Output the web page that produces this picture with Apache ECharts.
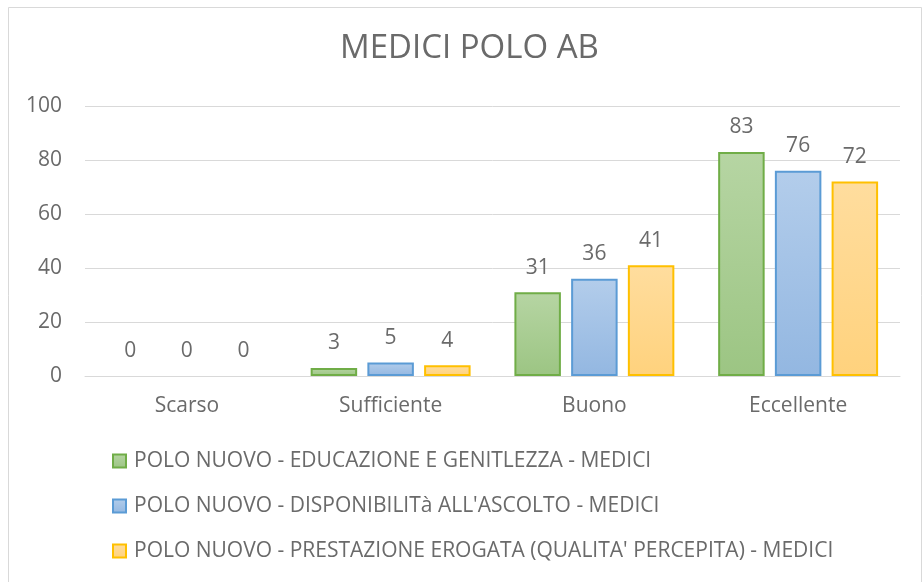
<!DOCTYPE html>
<html><head><meta charset="utf-8">
<script src="https://cdn.jsdelivr.net/npm/echarts@6/dist/echarts.min.js"></script>
<style>html,body{margin:0;padding:0;background:#fff}#c{width:923px;height:582px}</style>
</head><body><div id="c"></div>
<script>
const categories = ['Scarso', 'Sufficiente', 'Buono', 'Eccellente'];
const seriesNames = [
  "POLO NUOVO - EDUCAZIONE E GENITLEZZA - MEDICI",
  "POLO NUOVO - DISPONIBILITà ALL'ASCOLTO - MEDICI",
  "POLO NUOVO - PRESTAZIONE EROGATA (QUALITA' PERCEPITA) - MEDICI"
];
const educazione = [0, 3, 31, 83];
const disponibilita = [0, 5, 36, 76];
const prestazione = [0, 4, 41, 72];
const yTicks = [0, 20, 40, 60, 80, 100];

const FONT = 'Open Sans';
const TXT = '#6a6a6a';
const styles = [
  {top: '#b6d5a3', bottom: '#9cc583', border: '#70ad47'},
  {top: '#b3cdeb', bottom: '#93b7e1', border: '#5b9bd5'},
  {top: '#ffdd9e', bottom: '#ffd27d', border: '#ffc000'}
];
function grad(s) {
  return new echarts.graphic.LinearGradient(0, 0, 0, 1, [
    {offset: 0, color: s.top}, {offset: 1, color: s.bottom}
  ]);
}
function mkSeries(name, vals, s) {
  return {
    name: name,
    type: 'bar',
    barGap: '22%',
    barCategoryGap: '21.5%',
    data: vals.map(v => v === 0 ? {value: v, itemStyle: {borderWidth: 0, color: 'rgba(0,0,0,0)'}} : v),
    itemStyle: {color: grad(s), borderColor: s.border, borderWidth: 2},
    label: {show: true, position: 'top', distance: 14, color: TXT, fontFamily: FONT, fontSize: 21,
            formatter: p => String(p.value)},
    emphasis: {disabled: true}
  };
}
const chart = echarts.init(document.getElementById('c'), null, {renderer: 'canvas'});
chart.setOption({
  animation: false,
  backgroundColor: '#fff',
  title: {
    text: 'MEDICI POLO AB', left: 340, top: 32, padding: 0,
    textStyle: {fontFamily: FONT, fontSize: 33, fontWeight: 'normal', color: TXT}
  },
  graphic: [{
    type: 'rect', shape: {x: 8.5, y: 7.5, width: 913, height: 600},
    style: {fill: 'none', stroke: '#d9d9d9', lineWidth: 1}, silent: true, z: -1
  }],
  legend: {
    orient: 'vertical', left: 112, top: 449, padding: 0,
    itemWidth: 13, itemHeight: 13, itemGap: 21, icon: 'rect',
    textStyle: {fontFamily: FONT, fontSize: 21, color: TXT, lineHeight: 24, padding: [0, 0, 0, 3]},
    selectedMode: false,
    data: seriesNames
  },
  grid: {left: 85, right: 23, top: 106, bottom: 206, containLabel: false},
  xAxis: {
    type: 'category', data: categories,
    axisLine: {lineStyle: {color: '#d9d9d9', width: 1}},
    axisTick: {show: false},
    axisLabel: {fontFamily: FONT, fontSize: 21, color: TXT, margin: 20}
  },
  yAxis: {
    type: 'value', min: yTicks[0], max: yTicks[yTicks.length - 1], interval: 20,
    axisLine: {show: false}, axisTick: {show: false},
    splitLine: {lineStyle: {color: '#d9d9d9', width: 1}},
    axisLabel: {fontFamily: FONT, fontSize: 21, color: TXT, margin: 23}
  },
  series: [
    mkSeries(seriesNames[0], educazione, styles[0]),
    mkSeries(seriesNames[1], disponibilita, styles[1]),
    mkSeries(seriesNames[2], prestazione, styles[2])
  ]
});
</script></body></html>
